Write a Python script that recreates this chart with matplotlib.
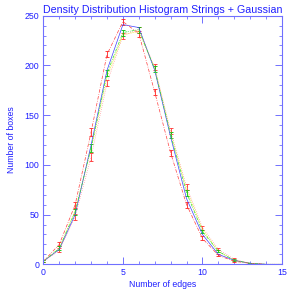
import matplotlib
matplotlib.use('Agg')
import matplotlib.pyplot as plt
from matplotlib.ticker import MultipleLocator

plt.rcParams['font.family'] = ['Liberation Sans', 'DejaVu Sans']

edges = list(range(16))
# blue solid curve
blue_y = [3, 15, 50, 120, 195, 241, 238, 195, 128, 66, 30, 10, 4, 1, 0, 0]
# green curve with error bars
green_y = [3, 16, 53, 117, 192, 233, 236, 196, 130, 72, 33, 13, 4, 1, 0, 0]
green_err = [1, 2, 3, 4, 3, 3, 3, 3, 3, 3, 2, 1, 1, 0, 0, 0]
# yellow dotted curve
yellow_y = [3, 16, 54, 116, 188, 231, 234, 197, 132, 75, 35, 13, 4, 1, 0, 0]
# red dash-dot curve (shifted left)
red_y = [3, 20, 60, 133, 211, 244, 232, 173, 112, 60, 26, 9, 3, 1, 0, 0]
red_err = [1, 2, 3, 4, 3, 3, 3, 3, 3, 3, 2, 1, 1, 0, 0, 0]
# pink dotted curve (shifted right)
pink_y = [3, 14, 48, 108, 182, 230, 236, 198, 134, 78, 37, 15, 5, 1, 0, 0]
pink_err = [1, 2, 3, 4, 3, 3, 3, 3, 3, 3, 2, 1, 1, 0, 0, 0]

fig = plt.figure(figsize=(2.95, 2.95), dpi=100)
ax = fig.add_axes([0.147, 0.104, 0.809, 0.843])

lw = 0.5
ax.errorbar(edges, red_y, yerr=red_err, color='#ff4040', lw=lw, ls=(0, (5, 2, 1, 2)),
            ecolor='#ff2020', elinewidth=0.6, capsize=1.5, capthick=0.6)
ax.errorbar(edges, pink_y, yerr=pink_err, color='#ff8080', lw=lw, ls=(0, (1, 2)),
            ecolor='#ff3030', elinewidth=0.6, capsize=1.5, capthick=0.6)
ax.plot(edges, yellow_y, color='#f0f000', lw=0.6, ls=(0, (1, 1.5)))
ax.errorbar(edges, green_y, yerr=green_err, color='#30e030', lw=lw, ls=(0, (4, 1.5, 1, 1.5, 1, 1.5)),
            ecolor='#00c000', elinewidth=0.6, capsize=1.5, capthick=0.6)
ax.plot(edges, blue_y, color='#4040ff', lw=lw)

ax.set_xlim(0, 15)
ax.set_ylim(0, 250)
ax.xaxis.set_major_locator(MultipleLocator(5))
ax.xaxis.set_minor_locator(MultipleLocator(1))
ax.yaxis.set_major_locator(MultipleLocator(50))
ax.yaxis.set_minor_locator(MultipleLocator(10))

axc = '#7070ff'
for s in ax.spines.values():
    s.set_color(axc)
    s.set_linewidth(0.8)
ax.tick_params(which='both', direction='in', top=True, right=True, colors=axc,
               labelcolor='#2020ff', labelsize=6.3)
ax.tick_params(which='major', length=5, width=0.7, pad=3)
ax.tick_params(which='minor', length=2.5, width=0.6)

ax.set_title('Density Distribution Histogram Strings + Gaussian', color='#2020ff',
             fontsize=7.7, pad=2)
ax.set_xlabel('Number of edges', color='#2020ff', fontsize=6.3, labelpad=2)
ax.set_ylabel('Number of boxes', color='#2020ff', fontsize=6.3, labelpad=6)

fig.savefig('out.png', dpi=100)
